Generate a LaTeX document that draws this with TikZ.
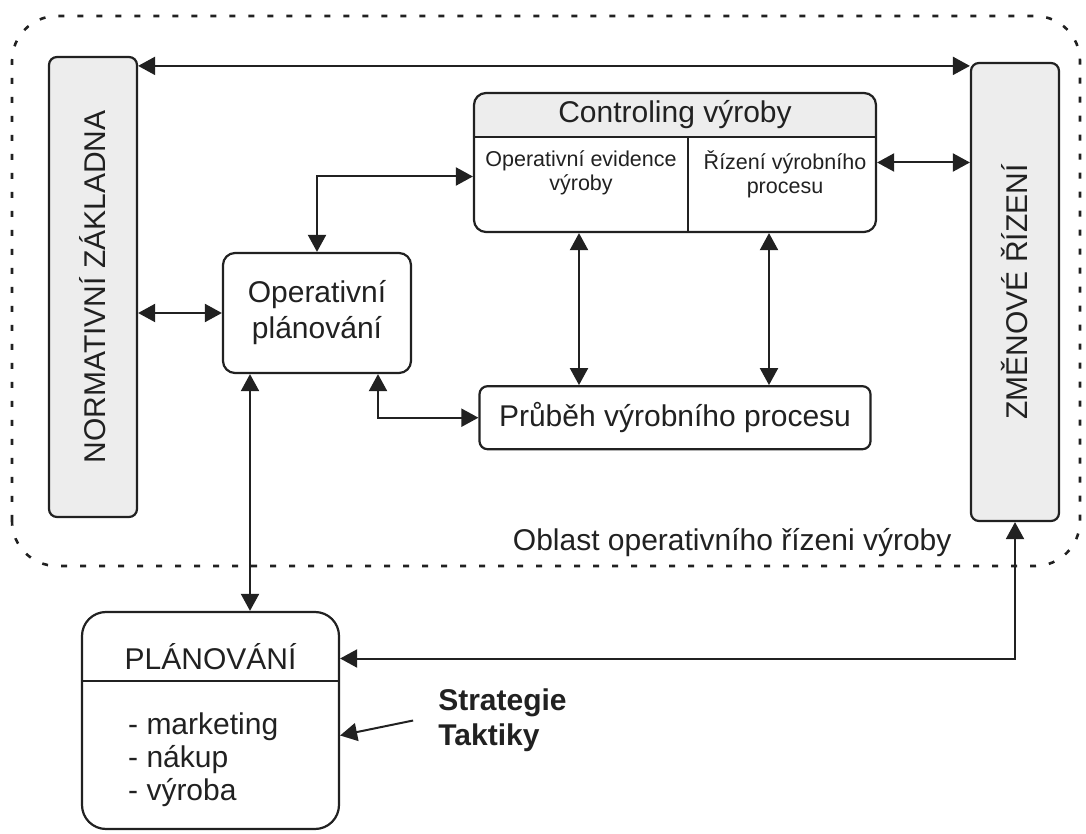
\documentclass[tikz,border=0pt]{standalone}
\usepackage{fontspec}
\setmainfont{Liberation Sans}
\usepackage{tikz}
\usetikzlibrary{positioning,arrows.meta,backgrounds}

\definecolor{ink}{gray}{0.13}
\definecolor{headgray}{gray}{0.93}

\begin{document}
\begin{tikzpicture}[
        x=1pt, y=1pt,
        every node/.style={text=ink, font=\fontsize{30}{36}\selectfont},
        side/.style={draw=ink, line width=2.2pt, rounded corners=8pt, fill=headgray, minimum width=88pt, inner sep=0pt},
        box/.style={draw=ink, line width=2.2pt, rounded corners=12pt, align=center, inner sep=0pt},
        small/.style={font=\fontsize{21.5}{24}\selectfont, align=center, inner sep=0pt},
        link/.style={{Triangle[length=17pt,width=18pt]}-{Triangle[length=17pt,width=18pt]}, line width=2pt, draw=ink},
        oneway/.style={-{Triangle[length=17pt,width=18pt]}, line width=2pt, draw=ink},
        area/.style={draw=ink, line width=2.6pt, dash pattern=on 6pt off 13pt, rounded corners=45pt}
    ]
        \useasboundingbox (0,0) rectangle (1086,833);

        % oblast operativniho rizeni
        \draw[area] (12,267) rectangle (1080,817);
        \node[anchor=base east] (oblast) at (955,283) {Oblast operativního řízeni výroby};

        % bocni sloupce
        \node[side, minimum height=460pt] (norm) at (93,546) {};
        \node[rotate=90] (normtext) at (norm.center) {NORMATIVNÍ ZÁKLADNA};

        \node[side, minimum height=458pt] (zmena) at (1015,541) {};
        \node[rotate=90] (zmenatext) at (zmena.center) {ZMĚNOVÉ ŘÍZENÍ};

        % controling
        \node[box, minimum width=402pt, minimum height=139pt] (ctrl) at (675,670.5) {};
        \node (ctrltitle) at ([yshift=-22.5pt]ctrl.north) {Controling výroby};
        \node[small, anchor=north] (evid) at ([xshift=-94pt,yshift=-59pt]ctrl.north) {Operativní evidence\\výroby};
        \node[small, anchor=north] (rizeni) at ([xshift=110pt,yshift=-59pt]ctrl.north) {Řízení výrobního\\procesu};
        \draw[ink, line width=2pt] ([yshift=-45pt]ctrl.north west) -- ([yshift=-45pt]ctrl.north east);
        \draw[ink, line width=2pt] ([xshift=13pt,yshift=-45pt]ctrl.north) -- ([xshift=13pt]ctrl.south);

        \node[box, minimum width=188pt, minimum height=120pt] (oper) at (317,520) {Operativní\\plánování};
        \node[box, rounded corners=8pt, minimum width=391pt, minimum height=63pt, below=152pt of ctrl] (prubeh) {Průběh výrobního procesu};

        % planovani
        \node[box, rounded corners=24pt, minimum width=257pt, minimum height=217pt] (plan) at (210.5,112.5) {};
        \node (plantitle) at ([yshift=-46pt]plan.north) {PLÁNOVÁNÍ};
        \node[anchor=west, align=left, inner sep=0pt, font=\fontsize{30}{33}\selectfont] (planlist) at (128,73) {- marketing\\- nákup\\- výroba};
        \draw[ink, line width=2pt] ([yshift=-70pt]plan.north west) -- ([yshift=-70pt]plan.north east);

        \node[font=\bfseries\fontsize{30}{35}\selectfont, align=left, inner sep=0pt, right=98pt of plan.east] (strat) {Strategie\\Taktiky};

        % sede hlavicky
        \begin{scope}[on background layer]
            \clip[rounded corners=12pt] (ctrl.south west) rectangle (ctrl.north east);
            \fill[headgray] (ctrl.north west) rectangle ([yshift=-45pt]ctrl.north east);
        \end{scope}
        \begin{scope}[on background layer]
            \clip[rounded corners=24pt] (plan.south west) rectangle (plan.north east);
            \fill[headgray] (plan.north west) rectangle ([yshift=-70pt]plan.north east);
        \end{scope}

        % vazby
        \coordinate (topL) at ([yshift=-10pt]norm.north east);
        \coordinate (cL) at ([xshift=-96pt]ctrl.south);
        \coordinate (cR) at ([xshift=94pt]ctrl.south);
        \coordinate (oL) at ([xshift=-67pt]oper.south);

        \draw[link] (topL) -- (topL -| zmena.west);
        \draw[link] (ctrl.east) -- (ctrl.east -| zmena.west);
        \draw[link] (norm.east |- oper.west) -- (oper.west);
        \draw[link] (oper.north) |- ([yshift=-14pt]ctrl.west);
        \draw[link] (cL) -- (cL |- prubeh.north);
        \draw[link] (cR) -- (cR |- prubeh.north);
        \draw[link] ([xshift=61pt]oper.south) |- (prubeh.west);
        \draw[link] (oL) -- (oL |- plan.north);
        \draw[link] (zmena.south) |- ([yshift=62pt]plan.east);
        \draw[oneway] ([xshift=-25pt]strat.west) -- ([yshift=-15pt]plan.east);
    \end{tikzpicture}
\end{document}
